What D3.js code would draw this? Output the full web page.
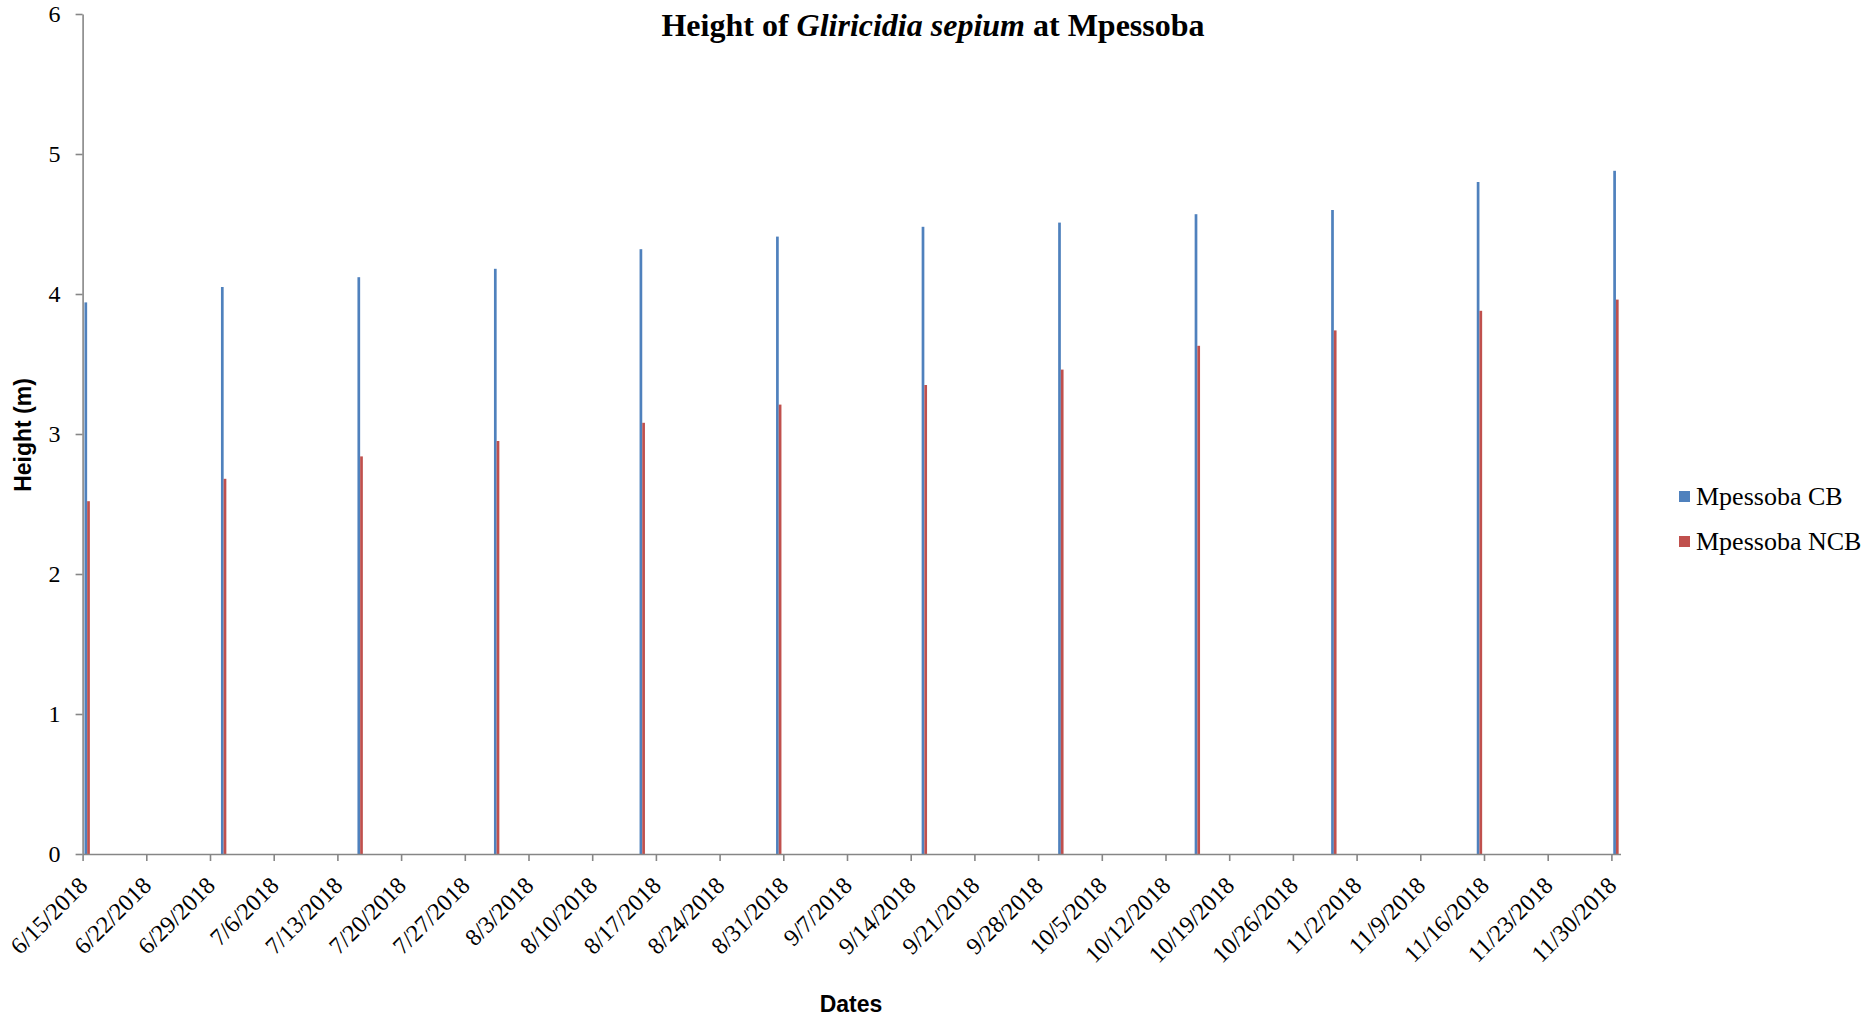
<!DOCTYPE html>
<html><head><meta charset="utf-8">
<script src="https://cdn.jsdelivr.net/npm/d3@7"></script>
<style>body{margin:0;background:#fff}svg{display:block}</style>
</head><body>
<svg id="c" width="1870" height="1017"></svg>
<script>
const dates = ["2018-06-15","2018-06-30","2018-07-15","2018-07-30","2018-08-15","2018-08-30","2018-09-15","2018-09-30","2018-10-15","2018-10-30","2018-11-15","2018-11-30"];
const cbValues = [3.94, 4.05, 4.12, 4.18, 4.32, 4.41, 4.48, 4.51, 4.57, 4.60, 4.80, 4.88];
const ncbValues = [2.52, 2.68, 2.84, 2.95, 3.08, 3.21, 3.35, 3.46, 3.63, 3.74, 3.88, 3.96];
const seriesNames = ["Mpessoba CB", "Mpessoba NCB"];
const yTicks = [0,1,2,3,4,5,6];
const tickStart = "2018-06-15", tickEnd = "2018-11-30", tickWeeks = 24;

const colors = ["#4F81BD", "#C0504D"];
const axisColor = "#868686";
const svg = d3.select("#c");
const parse = d3.utcParse("%Y-%m-%d");
const fmt = d3.utcFormat("%-m/%-d/%Y");
const DAY = 864e5;

const x0 = 82.6, x1 = 1620.5, yTop = 14, yBot = 854;
const x = d3.scaleUtc().domain([parse(tickStart), new Date(+parse(tickEnd) + DAY)]).range([x0, x1]);
const y = d3.scaleLinear().domain([0, 6]).range([yBot, yTop]);
const dayW = x(new Date(+parse(tickStart)+DAY)) - x(parse(tickStart));
const barW = 2.7;

// bars
const series = [cbValues, ncbValues];
series.forEach((vals, si) => {
  svg.append("g").selectAll("rect").data(dates.map((d,i)=>({d:parse(d), v:vals[i]})))
    .join("rect")
    .attr("x", d => x(d.d) + dayW/2 - barW + si*barW)
    .attr("width", barW)
    .attr("y", d => y(d.v))
    .attr("height", d => y(0) - y(d.v))
    .attr("fill", colors[si]);
});

// y axis
const yAxis = svg.append("g").attr("transform", `translate(${x0},0)`)
  .call(d3.axisLeft(y).tickValues(yTicks).tickFormat(d3.format("d")).tickSize(7).tickSizeOuter(0).tickPadding(15));
yAxis.select(".domain").attr("stroke", axisColor).attr("stroke-width", 1.6);
yAxis.selectAll(".tick line").attr("stroke", axisColor).attr("stroke-width", 1.6);
yAxis.selectAll("text").attr("font-family", "Liberation Serif").attr("font-size", 24).attr("fill", "#000");

// x axis
const xTicksArr = d3.range(0, tickWeeks + 1).map(i => d3.utcDay.offset(parse(tickStart), i * 7));
const xAxis = svg.append("g").attr("transform", `translate(0,${yBot})`)
  .call(d3.axisBottom(x).tickValues(xTicksArr).tickFormat(fmt).tickSize(7).tickSizeOuter(0));
xAxis.select(".domain").attr("stroke", axisColor).attr("stroke-width", 1.6);
xAxis.selectAll(".tick line").attr("stroke", axisColor).attr("stroke-width", 1.6);
xAxis.selectAll("text")
  .attr("font-family", "Liberation Serif").attr("font-size", 24).attr("fill", "#000")
  .attr("text-anchor", "end").attr("dy", null).attr("y", null)
  .attr("transform", "translate(6,33) rotate(-45)");

// title
const title = svg.append("text").attr("x", 933).attr("y", 36).attr("text-anchor", "middle")
  .attr("font-family", "Liberation Serif").attr("font-weight", "bold").attr("font-size", 32);
title.append("tspan").text("Height of ");
title.append("tspan").attr("font-style", "italic").text("Gliricidia sepium");
title.append("tspan").text(" at Mpessoba");

// axis titles
svg.append("text").attr("x", 851).attr("y", 1012).attr("text-anchor", "middle")
  .attr("font-family", "Liberation Sans").attr("font-weight", "bold").attr("font-size", 23).text("Dates");
svg.append("text").attr("transform", "translate(31,435) rotate(-90)").attr("text-anchor", "middle")
  .attr("font-family", "Liberation Sans").attr("font-weight", "bold").attr("font-size", 23).text("Height (m)");

// legend
const leg = svg.append("g").attr("transform", "translate(1679,491)");
seriesNames.forEach((n, i) => {
  const g = leg.append("g").attr("transform", `translate(0,${i*45})`);
  g.append("rect").attr("width", 11).attr("height", 11).attr("fill", colors[i]);
  g.append("text").attr("x", 17).attr("y", 14).attr("font-family", "Liberation Serif").attr("font-size", 26).text(n);
});
</script>
</body></html>
